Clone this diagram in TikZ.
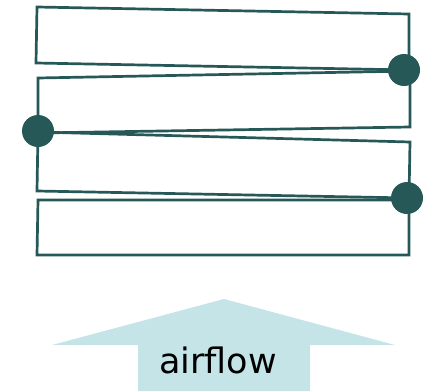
\documentclass[tikz,border=0pt]{standalone}
\usepackage{fontspec}
\setmainfont{DejaVu Sans}
\definecolor{teal1}{HTML}{275858}
\definecolor{air}{HTML}{C4E4E8}
\begin{document}
\begin{tikzpicture}[x=1pt,y=-1pt,
  tube/.style={draw=teal1,line width=2.7pt,line join=miter},
  joint/.style={circle,fill=teal1,minimum size=32pt,inner sep=0pt},
  flow/.style={fill=air,draw=none}]
\useasboundingbox (0,0) rectangle (423,391);
% tubes
\draw[tube] (37,7) -- (409,14) -- (409,70) -- (36,63) -- cycle;
\draw[tube] (38,78) -- (410,71) -- (410,127) -- (38,133) -- cycle;
\draw[tube] (38,132) -- (410,142) -- (409,198) -- (37,191) -- cycle;
\draw[tube] (38,200) -- (409,200) -- (409,255) -- (37,255) -- cycle;
% joints
\node[joint] (d1) at (404,70) {};
\node[joint] (d2) at (38,131) {};
\node[joint] (d3) at (407,198) {};
% airflow arrow
\fill[flow] (224,299) -- (395,345) -- (310,345) -- (310,391) -- (138,391) -- (138,345) -- (52,345) -- cycle;
\node[anchor=base,font=\fontsize{35}{40}\selectfont,inner sep=0pt] (lbl) at (218,373) {airflow};
\end{tikzpicture}
\end{document}
